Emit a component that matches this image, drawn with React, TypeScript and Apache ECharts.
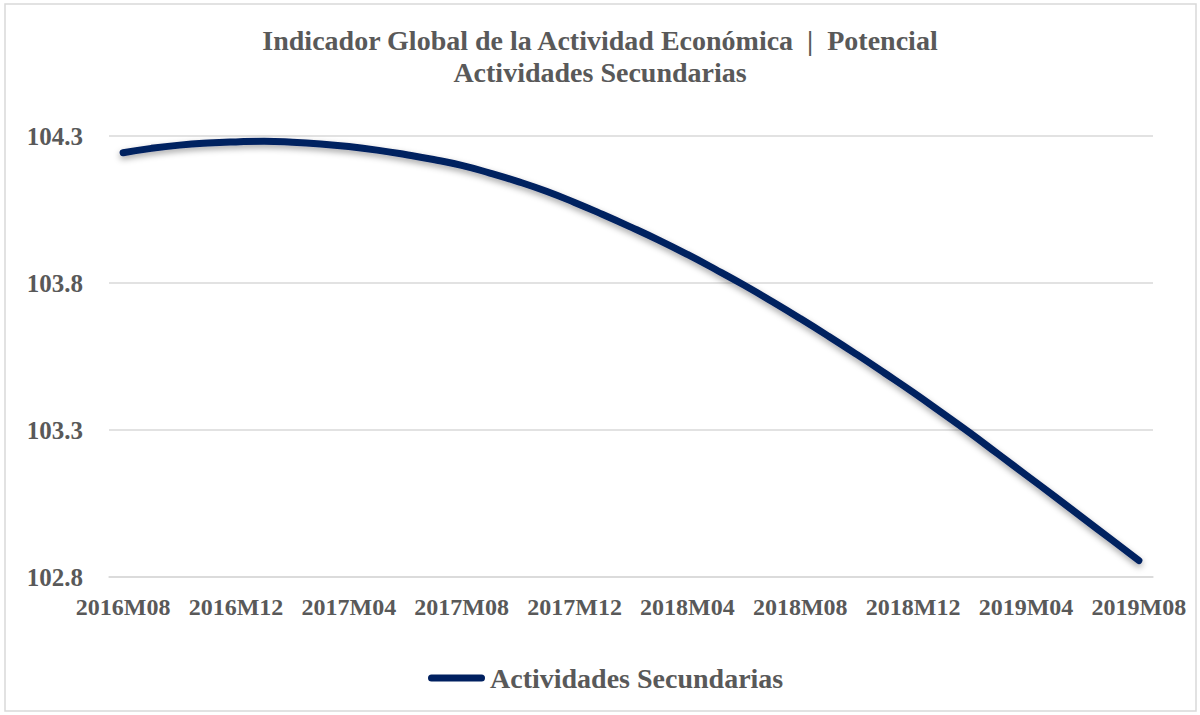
import React, { useEffect, useRef } from "react";
import * as echarts from "echarts";

const categories: string[] = [
  "2016M08", "2016M09", "2016M10", "2016M11", "2016M12",
  "2017M01", "2017M02", "2017M03", "2017M04", "2017M05", "2017M06", "2017M07", "2017M08",
  "2017M09", "2017M10", "2017M11", "2017M12",
  "2018M01", "2018M02", "2018M03", "2018M04", "2018M05", "2018M06", "2018M07", "2018M08",
  "2018M09", "2018M10", "2018M11", "2018M12",
  "2019M01", "2019M02", "2019M03", "2019M04", "2019M05", "2019M06", "2019M07", "2019M08",
];

const secundarias: number[] = [
  104.243, 104.258, 104.269, 104.276, 104.280,
  104.282, 104.279, 104.273, 104.264, 104.252, 104.237, 104.220, 104.200,
  104.174, 104.145, 104.112, 104.074,
  104.033, 103.990, 103.945, 103.897, 103.846, 103.793, 103.737, 103.679,
  103.619, 103.557, 103.493, 103.428,
  103.360, 103.291, 103.219, 103.147, 103.075, 103.002, 102.929, 102.856,
];

const yMin = 102.8;
const yMax = 104.3;
const yStep = 0.5;

const titleLines = ["Indicador Global de la Actividad Económica  |  Potencial", "Actividades Secundarias"];
const seriesName = "Actividades Secundarias";

const FONT = "'Liberation Serif', 'Times New Roman', serif";
const GRAY = "#595959";
const NAVY = "#002060";

export default function App() {
  const ref = useRef<HTMLDivElement>(null);

  useEffect(() => {
    if (!ref.current) return;
    const chart = echarts.init(ref.current, null, { renderer: "svg" });
    chart.setOption({
      animation: false,
      backgroundColor: "#ffffff",
      title: {
        text: titleLines.join("\n"),
        left: "center",
        top: 19,
        textStyle: {
          fontFamily: FONT,
          fontWeight: "bold",
          fontSize: 28,
          lineHeight: 32,
          color: GRAY,
        },
      },
      legend: {
        data: [seriesName],
        left: 428,
        top: 664,
        padding: 0,
        itemWidth: 57,
        itemHeight: 7,
        icon: "path://M3.5,0 H53.5 A3.5,3.5 0 0 1 53.5,7 H3.5 A3.5,3.5 0 0 1 3.5,0 Z",
        textStyle: {
          fontFamily: FONT,
          fontWeight: "bold",
          fontSize: 28,
          color: GRAY,
        },
      },
      grid: {
        left: 109,
        right: 47,
        top: 136,
        bottom: 138,
        containLabel: false,
      },
      xAxis: {
        type: "category",
        data: categories,
        boundaryGap: true,
        axisLine: { show: true, lineStyle: { color: "#d9d9d9", width: 1.5 } },
        axisTick: { show: false },
        axisLabel: {
          interval: 3,
          margin: 18,
          fontFamily: FONT,
          fontWeight: "bold",
          fontSize: 24,
          color: GRAY,
        },
      },
      yAxis: {
        type: "value",
        min: yMin,
        max: yMax,
        interval: yStep,
        axisLine: { show: false },
        axisTick: { show: false },
        splitLine: { lineStyle: { color: "#d9d9d9", width: 1.5 } },
        axisLabel: {
          margin: 26,
          fontFamily: FONT,
          fontWeight: "bold",
          fontSize: 25,
          color: GRAY,
          formatter: (v: number) => v.toFixed(1),
        },
      },
      series: [
        {
          name: seriesName,
          type: "line",
          data: secundarias,
          smooth: true,
          showSymbol: false,
          symbol: "none",
          color: NAVY,
          lineStyle: {
            color: NAVY,
            width: 7,
            cap: "round",
            join: "round",
            shadowColor: "rgba(0,0,0,0.35)",
            shadowBlur: 6,
            shadowOffsetY: 3,
          },
        },
      ],
      graphic: [
        {
          type: "rect",
          shape: { x: 5, y: 4, width: 1191, height: 707 },
          style: { fill: "none", stroke: "#d9d9d9", lineWidth: 1.5 },
          silent: true,
          z: -1,
        },
      ],
    });
    return () => chart.dispose();
  }, []);

  return (
    <div
      ref={ref}
      style={{ position: "fixed", left: 0, top: 0, width: 1200, height: 715 }}
    />
  );
}
